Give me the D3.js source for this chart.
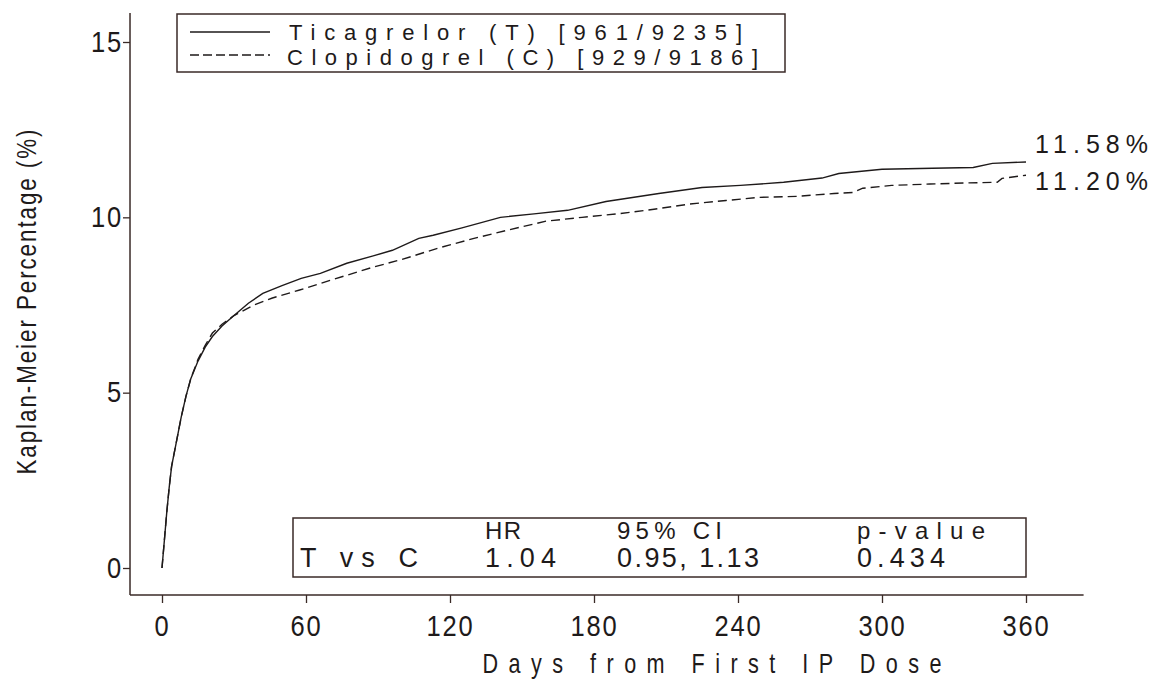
<!DOCTYPE html>
<html lang="en">
<head>
<meta charset="utf-8">
<title>Kaplan-Meier: Ticagrelor vs Clopidogrel</title>
<script src="https://cdn.jsdelivr.net/npm/d3@7"></script>
<style>
  body { margin: 0; background: #fff; }
  svg { display: block; }
  .reg { font-family: "Liberation Sans", Arial, sans-serif; }
</style>
</head>
<body>
<div id="chart"></div>
<script>
var ticaDays = [0, 1, 2, 3, 4, 6, 8, 10, 12, 15, 18, 21, 25, 30, 36, 42, 50, 58, 66, 77, 88, 96, 107, 113, 125, 141, 155, 169, 185, 207, 225, 241, 259, 275, 282, 300, 321, 338, 346, 360];
var ticaPct  = [0, 0.8, 1.6, 2.3, 2.9, 3.6, 4.3, 4.9, 5.4, 5.9, 6.3, 6.6, 6.9, 7.2, 7.55, 7.83, 8.05, 8.26, 8.4, 8.69, 8.9, 9.06, 9.4, 9.49, 9.7, 10.0, 10.1, 10.2, 10.45, 10.68, 10.85, 10.91, 11.0, 11.12, 11.25, 11.37, 11.4, 11.42, 11.54, 11.58];
var clopDays = [0, 1, 2, 3, 4, 6, 8, 10, 12, 15, 18, 21, 25, 30, 38, 46, 57, 70, 88, 100, 115, 130, 145, 160, 175, 190, 205, 220, 235, 249, 265, 280, 288, 292, 304, 320, 335, 348, 350, 360];
var clopPct  = [0, 0.8, 1.6, 2.3, 2.9, 3.6, 4.3, 4.9, 5.4, 5.95, 6.35, 6.7, 6.95, 7.2, 7.49, 7.7, 7.92, 8.2, 8.58, 8.8, 9.12, 9.4, 9.65, 9.89, 10.0, 10.1, 10.23, 10.38, 10.48, 10.57, 10.6, 10.68, 10.71, 10.83, 10.91, 10.95, 10.98, 11.0, 11.11, 11.2];

var xTicks = [0, 60, 120, 180, 240, 300, 360];
var yTicks = [0, 5, 10, 15];
var legendLabels = ["Ticagrelor (T) [961/9235]", "Clopidogrel (C) [929/9186]"];
var endLabels = ["11.58%", "11.20%"];
var statHead = ["HR", "95% CI", "p-value"];
var statRow = ["T vs C", "1.04", "0.95, 1.13", "0.434"];

var W = 1158, H = 680;
var ink = "#1e1a1a", frame = "#3a2a27";
var squeeze = 0.8;  // the original uses a condensed face; fake it

var svg = d3.select("#chart").append("svg")
  .attr("width", W).attr("height", H);
svg.append("rect").attr("width", W).attr("height", H).attr("fill", "#fff");

var x = d3.scaleLinear().domain([0, 360]).range([162, 1026]);
var y = d3.scaleLinear().domain([0, 15]).range([568, 42]);

var axisX0 = x(-13.33), axisX1 = x(384);
var axisY0 = y(-0.77), axisY1 = y(15.83);

// frame lines
svg.append("line").attr("x1", axisX0).attr("x2", axisX0).attr("y1", axisY1).attr("y2", axisY0)
  .attr("stroke", frame).attr("stroke-width", 1.5);
svg.append("line").attr("x1", axisX0).attr("x2", axisX1).attr("y1", axisY0).attr("y2", axisY0)
  .attr("stroke", frame).attr("stroke-width", 1.5);

var gx = svg.append("g").attr("transform", "translate(0," + axisY0 + ")")
  .call(d3.axisBottom(x).tickValues(xTicks).tickSize(8).tickPadding(12).tickFormat(d3.format("d")));
gx.select(".domain").remove();
gx.selectAll("line").attr("stroke", frame).attr("stroke-width", 1.3);
gx.selectAll("text").attr("class", "reg").attr("font-family", null)
  .attr("font-size", 29).attr("fill", ink)
  .attr("transform", "scale(0.88,1)").style("letter-spacing", "2px");

var gy = svg.append("g").attr("transform", "translate(" + axisX0 + ",0)")
  .call(d3.axisLeft(y).tickValues(yTicks).tickSize(7).tickPadding(1));
gy.select(".domain").remove();
gy.selectAll("line").attr("stroke", frame).attr("stroke-width", 1.3);
gy.selectAll("text").attr("class", "reg").attr("font-family", null)
  .attr("font-size", 29).attr("fill", ink)
  .attr("transform", "scale(0.88,1)").style("letter-spacing", "2px");

// titles
svg.append("text").attr("class", "reg")
  .attr("transform", "translate(712,673) scale(" + squeeze + ",1)")
  .attr("text-anchor", "middle")
  .attr("font-size", 27).attr("fill", ink).attr("font-weight", 500)
  .attr("textLength", 459 / squeeze).attr("lengthAdjust", "spacing")
  .text("Days from First IP Dose");

svg.append("text").attr("class", "reg")
  .attr("transform", "translate(36,302) rotate(-90) scale(" + squeeze + ",1)")
  .attr("text-anchor", "middle").attr("font-size", 28).attr("fill", ink)
  .attr("textLength", 345 / squeeze).attr("lengthAdjust", "spacing")
  .text("Kaplan-Meier Percentage (%)");

// curves
var line = d3.line().x(function(d) { return x(d[0]); }).y(function(d) { return y(d[1]); });
var tica = d3.zip(ticaDays, ticaPct);
var clop = d3.zip(clopDays, clopPct);

svg.append("path").datum(clop).attr("d", line)
  .attr("fill", "none").attr("stroke", ink).attr("stroke-width", 1.4)
  .attr("stroke-dasharray", "9,5");
svg.append("path").datum(tica).attr("d", line)
  .attr("fill", "none").attr("stroke", ink).attr("stroke-width", 1.4);

// end labels
svg.selectAll(".endlab").data(endLabels).enter().append("text")
  .attr("class", "reg")
  .attr("x", 1035).attr("y", function(d, i) { return i == 0 ? 153 : 190; })
  .attr("font-size", 25).attr("fill", ink)
  .attr("textLength", 113).attr("lengthAdjust", "spacing")
  .text(function(d) { return d; });

// legend
var leg = svg.append("g");
leg.append("rect").attr("x", 177).attr("y", 14).attr("width", 608).attr("height", 58)
  .attr("fill", "#fff").attr("stroke", frame).attr("stroke-width", 1.5);
leg.selectAll(".lline").data(legendLabels).enter().append("line")
  .attr("x1", 190).attr("x2", 270)
  .attr("y1", function(d, i) { return i == 0 ? 32 : 55; })
  .attr("y2", function(d, i) { return i == 0 ? 32 : 55; })
  .attr("stroke", ink).attr("stroke-width", 1.3)
  .attr("stroke-dasharray", function(d, i) { return i == 0 ? null : "9,4"; });
leg.selectAll(".ltext").data(legendLabels).enter().append("text")
  .attr("class", "reg")
  .attr("x", function(d, i) { return i == 0 ? 289 : 287; })
  .attr("y", function(d, i) { return i == 0 ? 40 : 65; })
  .attr("font-size", 22).attr("fill", ink)
  .attr("textLength", function(d, i) { return i == 0 ? 453 : 471; })
  .attr("lengthAdjust", "spacing")
  .text(function(d) { return d; });

// stats box
var st = svg.append("g");
st.append("rect").attr("x", 293).attr("y", 518).attr("width", 733).attr("height", 59)
  .attr("fill", "#fff").attr("stroke", frame).attr("stroke-width", 1.5);
var headX = [485, 617, 857], headW = [36, 105, 128];
st.selectAll(".hd").data(statHead).enter().append("text")
  .attr("class", "reg")
  .attr("x", function(d, i) { return headX[i]; }).attr("y", 539)
  .attr("font-size", 24).attr("fill", ink)
  .attr("textLength", function(d, i) { return headW[i]; }).attr("lengthAdjust", "spacing")
  .text(function(d) { return d; });
var rowX = [300, 485, 617, 857], rowW = [118, 71, 142, 88];
st.selectAll(".rw").data(statRow).enter().append("text")
  .attr("class", "reg")
  .attr("x", function(d, i) { return rowX[i]; }).attr("y", 567)
  .attr("font-size", 27).attr("fill", ink)
  .attr("textLength", function(d, i) { return rowW[i]; }).attr("lengthAdjust", "spacing")
  .text(function(d) { return d; });
</script>
</body>
</html>
